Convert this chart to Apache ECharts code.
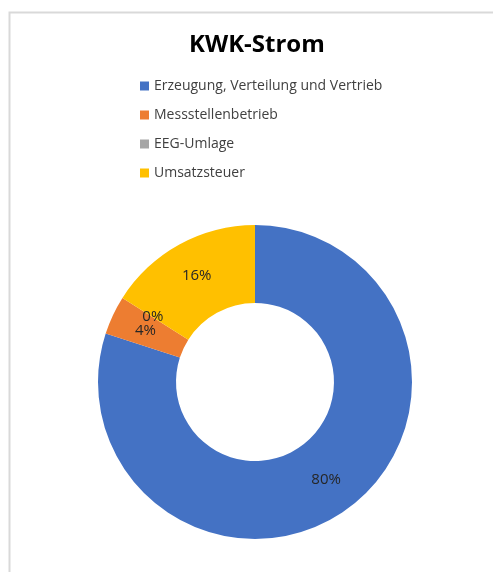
<!DOCTYPE html>
<html>
<head>
<meta charset="utf-8">
<script src="https://cdn.jsdelivr.net/npm/echarts@6/dist/echarts.min.js"></script>
<style>
  html, body { margin: 0; padding: 0; background: #fff; }
  #chart { width: 493px; height: 572px; }
</style>
</head>
<body>
<div id="chart"></div>
<script>
// Anteile am KWK-Strompreis
const categories = ['Erzeugung, Verteilung und Vertrieb', 'Messstellenbetrieb', 'EEG-Umlage', 'Umsatzsteuer'];
const shares = [80, 4, 0, 16];
const colors = ['#4472C4', '#ED7D31', '#A5A5A5', '#FFC000'];

const chart = echarts.init(document.getElementById('chart'));

const option = {
    animation: false,
    title: {
        text: 'KWK-Strom',
        left: 184,
        top: 28,
        textStyle: {
            fontFamily: 'Open Sans',
            fontSize: 24,
            fontWeight: 'bold',
            color: '#000'
        }
    },
    legend: {
        orient: 'vertical',
        left: 135,
        top: 74,
        itemWidth: 9,
        itemHeight: 9,
        itemGap: 15,
        icon: 'rect',
        textStyle: {
            fontFamily: 'Open Sans',
            fontSize: 14,
            color: '#404040'
        },
        data: categories
    },
    graphic: [
        {
            type: 'polyline',
            shape: { points: [[9.5, 600], [9.5, 12.5], [520, 12.5]] },
            style: { stroke: '#d9d9d9', lineWidth: 2, fill: null }
        }
    ],
    series: [
        {
            name: 'KWK-Strom',
            type: 'pie',
            center: [255, 382],
            radius: [79, 157],
            startAngle: 90,
            clockwise: true,
            avoidLabelOverlap: false,
            labelLayout: { hideOverlap: false },
            itemStyle: { borderWidth: 0 },
            label: {
                show: true,
                position: 'inside',
                formatter: '{d}%',
                fontFamily: 'Open Sans',
                fontSize: 15,
                color: '#262626'
            },
            labelLine: { show: false },
            emphasis: { disabled: true },
            data: categories.map((name, i) => ({
                name: name,
                value: shares[i],
                itemStyle: { color: colors[i] }
            }))
        }
    ]
};

chart.setOption(option);
</script>
</body>
</html>
